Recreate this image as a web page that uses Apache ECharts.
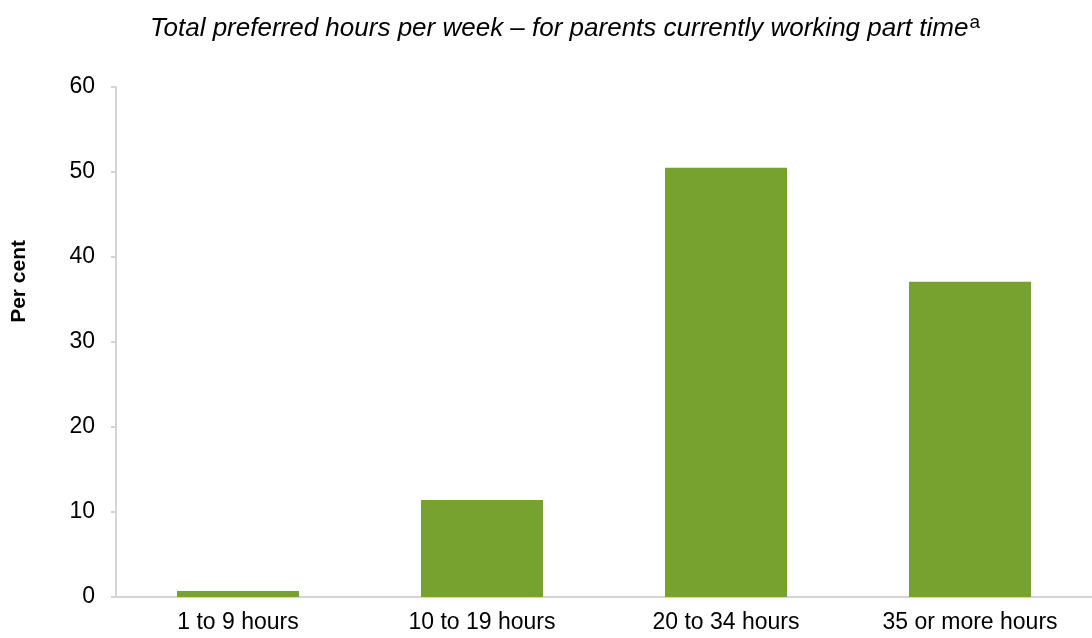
<!DOCTYPE html>
<html>
<head>
<meta charset="utf-8">
<script src="https://cdn.jsdelivr.net/npm/echarts@6/dist/echarts.min.js"></script>
<style>
  html, body { margin: 0; padding: 0; background: #fff; }
  #chart { width: 1092px; height: 638px; }
</style>
</head>
<body>
<div id="chart"></div>
<script>
var categories = ['1 to 9 hours', '10 to 19 hours', '20 to 34 hours', '35 or more hours'];
var perCent = [0.7, 11.4, 50.5, 37.1];
var yTicks = { min: 0, max: 60, step: 10 };

var font = '"Liberation Sans", Arial, sans-serif';
var axisGrey = '#d4d4d4';

var chart = echarts.init(document.getElementById('chart'));
chart.setOption({
    animation: false,
    textStyle: { fontFamily: font },
    title: {
        text: 'Total preferred hours per week \u2013 for parents currently working part time{sup|a}',
        left: 560,
        textAlign: 'center',
        top: 8,
        textStyle: {
            fontFamily: font,
            fontStyle: 'italic',
            fontWeight: 'normal',
            fontSize: 26,
            color: '#000',
            rich: {
                sup: { fontFamily: font, fontStyle: 'normal', fontSize: 19, color: '#000', verticalAlign: 'top', padding: [0, 0, 12, 1] }
            }
        }
    },
    graphic: [{
        type: 'text',
        left: 9,
        top: 240,
        rotation: Math.PI / 2,
        style: {
            text: 'Per cent',
            font: 'bold 21px ' + font,
            fill: '#000'
        }
    }],
    grid: { left: 116, top: 87, bottom: 41, width: 980, containLabel: false },
    xAxis: {
        type: 'category',
        data: categories,
        axisLine: { lineStyle: { color: axisGrey, width: 2 } },
        axisTick: { show: false },
        axisLabel: { color: '#000', fontSize: 23, margin: 14, fontFamily: font }
    },
    yAxis: {
        type: 'value',
        min: yTicks.min,
        max: yTicks.max,
        interval: yTicks.step,
        axisLine: { show: true, lineStyle: { color: axisGrey, width: 2 } },
        axisTick: { show: true, length: 5, lineStyle: { color: axisGrey, width: 2 } },
        splitLine: { show: false },
        axisLabel: { color: '#000', fontSize: 23, margin: 21, fontFamily: font }
    },
    series: [{
        type: 'bar',
        data: perCent,
        barWidth: '50%',
        itemStyle: { color: '#78a22f' }
    }]
});
</script>
</body>
</html>
